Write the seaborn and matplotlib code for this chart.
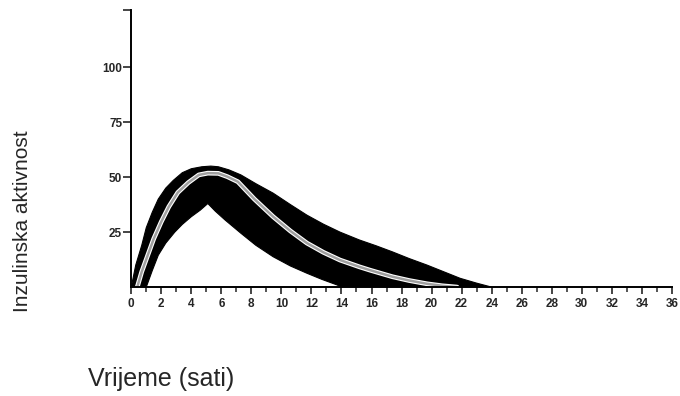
import numpy as np
import pandas as pd
import matplotlib
matplotlib.use("Agg")
import matplotlib.pyplot as plt
import seaborn as sns

# upper edge of the black band (hours, activity)
upper_h = [0, 0.3, 0.7, 1.0, 1.4, 1.8, 2.3, 2.8, 3.4, 4.0, 4.7, 5.3, 5.8, 6.5, 7.3, 8.3,
           9.45, 10.6, 11.7, 12.8, 13.9, 15.2, 16.3, 17.4, 18.5, 19.7, 20.8, 21.9, 23.0, 24.0]
upper_v = [0, 10, 19, 27, 34, 40, 45, 48.5, 52, 53.8, 54.7, 55, 54.7, 53.3, 51, 47,
           42.7, 37.5, 32.7, 28.6, 25, 21.4, 18.8, 16, 13, 10, 7, 4, 1.8, 0]

# lower edge of the band
lower_h = [0, 1.0, 1.4, 1.8, 2.3, 2.9, 3.4, 4.0, 4.6, 5.1, 5.6, 6.25, 7.3, 8.3, 9.45,
           10.6, 11.7, 12.7, 13.7, 14.0, 24.0]
lower_v = [0, 0, 7.5, 14.5, 20, 25, 28.5, 32, 35, 38, 34.5, 30.5, 24.5, 19, 13.8,
           9.6, 6.3, 3.5, 1, 0, 0]

# mean curve (grey line inside the band)
center_h = [0.4, 0.7, 1.1, 1.5, 2.0, 2.5, 3.1, 3.8, 4.5, 5.1, 5.8, 6.4, 7.1, 8.2, 9.45,
            10.6, 11.7, 12.8, 13.9, 15.2, 15.9, 17.4, 18.5, 19.7, 20.7, 21.7]
center_v = [0, 7, 14.5, 22, 29.7, 36.5, 43, 47.5, 51, 51.8, 51.7, 50.2, 47.9, 40, 32,
            25.5, 20, 15.8, 12.3, 9.2, 7.7, 4.7, 3, 1.5, 0.6, 0]

x_ticks = list(range(0, 37, 2))
y_ticks = [25, 50, 75, 100]

sns.set_style("ticks")
plt.rcParams['font.family'] = ['Liberation Sans', 'DejaVu Sans']

fig = plt.figure(figsize=(6.8, 3.96), dpi=100)
ax = fig.add_axes([0.193, 0.275, 0.795, 0.70])

band_x = np.concatenate([upper_h, lower_h[::-1]])
band_y = np.concatenate([upper_v, lower_v[::-1]])
ax.fill(band_x, band_y, color='black', lw=0.8)

center_df = pd.DataFrame({'hours': center_h, 'activity': center_v})
sns.lineplot(data=center_df, x='hours', y='activity', color='white', lw=3.4, ax=ax)
sns.lineplot(data=center_df, x='hours', y='activity', color='#a0a0a0', lw=1.8, ax=ax)

ax.set_xlim(0, 36)
ax.set_ylim(0, 126)
ax.set_xticks(x_ticks)
ax.set_xticks([h for h in range(1, 36, 2)], minor=True)
ax.set_yticks(y_ticks + [126])
ax.set_yticklabels([str(v) for v in y_ticks] + [''])
ax.set_xlabel('')
ax.set_ylabel('')

sns.despine(ax=ax)
for side in ['left', 'bottom']:
    ax.spines[side].set_linewidth(1.4)
    ax.spines[side].set_color('black')

ax.tick_params(axis='x', which='major', length=5, width=1.2, pad=3, labelsize=8.5)
ax.tick_params(axis='x', which='minor', length=3.5, width=1.1)
ax.tick_params(axis='y', length=5.5, width=1.2, pad=1, labelsize=8.5)
for lab in ax.get_xticklabels() + ax.get_yticklabels():
    lab.set_fontweight('bold')

fig.text(88 / 680, 1 - 386 / 396, 'Vrijeme (sati)', fontsize=18,
         ha='left', va='baseline')
fig.text(22 / 680, 1 - 221 / 396, 'Inzulinska aktivnost', fontsize=15,
         rotation=90, ha='center', va='center')

fig.savefig('out.png', dpi=100)
